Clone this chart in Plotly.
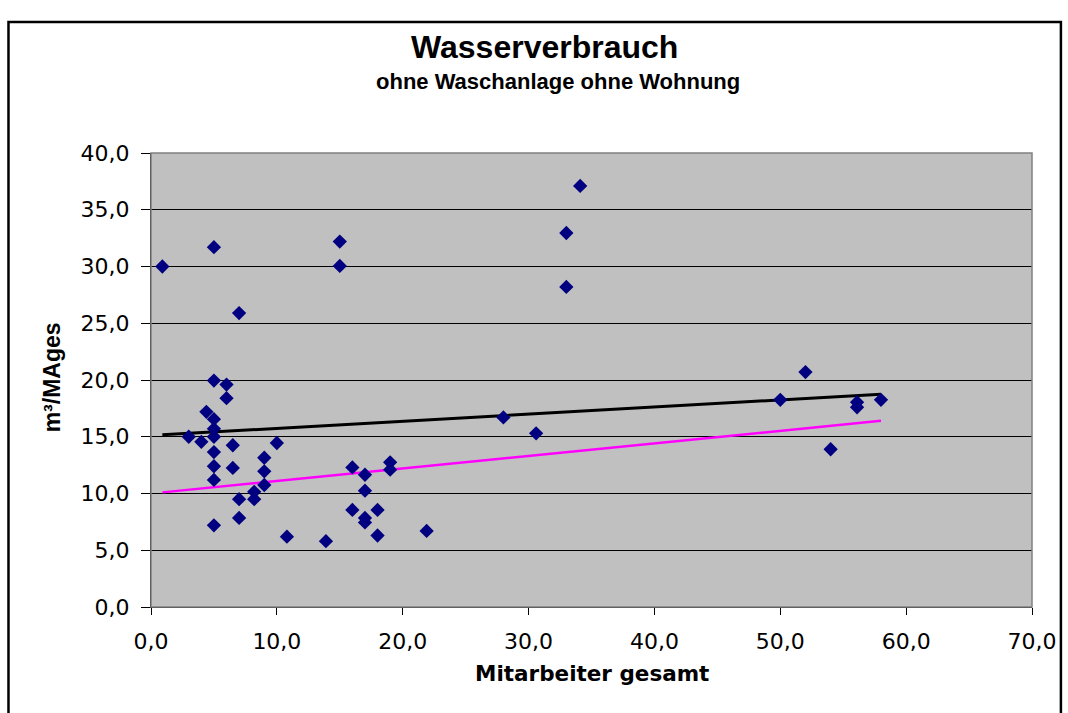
import plotly.graph_objects as go

# Data
mitarbeiter = [0.9, 5.0, 7.0, 5.0, 6.0, 6.0, 4.4, 5.0, 5.0, 3.0, 5.0, 4.0, 6.5, 10.0,
               5.0, 9.0, 5.0, 6.5, 9.0, 5.0, 9.0, 8.2, 7.0, 8.2, 7.0, 5.0, 10.8, 13.9,
               16.0, 17.0, 19.0, 19.0, 17.0, 16.0, 18.0, 17.0, 17.0, 18.0, 21.9,
               15.0, 15.0, 28.0, 30.6, 33.0, 33.0, 34.1,
               50.0, 52.0, 54.0, 56.1, 56.1, 58.0]
verbrauch = [30.0, 31.7, 25.9, 19.95, 19.6, 18.4, 17.2, 16.55, 15.7, 15.0, 15.0, 14.55, 14.25, 14.45,
             13.65, 13.15, 12.4, 12.25, 11.95, 11.2, 10.75, 10.15, 9.5, 9.5, 7.85, 7.2, 6.2, 5.8,
             12.3, 11.65, 12.75, 12.1, 10.25, 8.55, 8.55, 7.85, 7.45, 6.3, 6.7,
             32.2, 30.05, 16.7, 15.3, 32.95, 28.2, 37.1,
             18.25, 20.7, 13.9, 18.05, 17.6, 18.25]

trend_x = [0.9, 58.0]
trend_black_y = [15.17, 18.75]
trend_magenta_y = [10.1, 16.4]

x_ticks = [0, 10, 20, 30, 40, 50, 60, 70]
y_ticks = [0, 5, 10, 15, 20, 25, 30, 35, 40]

title_text = "Wasserverbrauch"
subtitle_text = "ohne Waschanlage ohne Wohnung"
x_title = "Mitarbeiter gesamt"
y_title = "m³/MAges"

fig = go.Figure()

fig.add_trace(go.Scatter(
    x=trend_x, y=trend_black_y, mode="lines",
    line=dict(color="#000000", width=3), showlegend=False, hoverinfo="skip"))
fig.add_trace(go.Scatter(
    x=trend_x, y=trend_magenta_y, mode="lines",
    line=dict(color="#ff00ff", width=2.5), showlegend=False, hoverinfo="skip"))
fig.add_trace(go.Scatter(
    x=mitarbeiter, y=verbrauch, mode="markers",
    marker=dict(symbol="diamond", size=11, color="#000080", line=dict(width=0)),
    showlegend=False))

PW, PH = 884.0, 454.0
L, T = 151, 153

def px_to_paper_x(px):
    return (px - L) / PW

def px_to_paper_y(py):
    return (T + PH - py) / PH

fig.update_layout(
    width=1068, height=713,
    margin=dict(l=L, r=1068 - L - int(PW), t=T, b=713 - T - int(PH), pad=0),
    paper_bgcolor="#ffffff",
    plot_bgcolor="#c0c0c0",
    separators=",.",
    font=dict(family="DejaVu Sans", color="#000000", size=22),
    xaxis=dict(
        range=[0, 70], tickvals=x_ticks, tickformat=".1f",
        showgrid=False, zeroline=False,
        showline=True, linecolor="#000000", linewidth=1,
        ticks="outside", ticklen=7, tickcolor="#000000", tickwidth=1,
        tickfont=dict(family="DejaVu Sans", size=22, color="#000000"),
        ticklabelstandoff=8,
    ),
    yaxis=dict(
        range=[0, 40], tickvals=y_ticks, tickformat=".1f",
        showgrid=True, gridcolor="#000000", gridwidth=1, zeroline=False,
        showline=True, linecolor="#000000", linewidth=1,
        ticks="outside", ticklen=9, tickcolor="#000000", tickwidth=1,
        tickfont=dict(family="DejaVu Sans", size=22, color="#000000"),
        ticklabelstandoff=7,
    ),
    shapes=[
        dict(type="rect", xref="paper", yref="paper", x0=0, x1=1, y0=0, y1=1,
             line=dict(color="#808080", width=1.5), fillcolor="rgba(0,0,0,0)", layer="above"),
        dict(type="rect", xref="paper", yref="paper",
             x0=px_to_paper_x(8), x1=px_to_paper_x(1064),
             y0=px_to_paper_y(730), y1=px_to_paper_y(22),
             line=dict(color="#000000", width=2.5), fillcolor="rgba(0,0,0,0)", layer="above"),
    ],
    annotations=[
        dict(text=title_text, xref="paper", yref="paper",
             x=px_to_paper_x(546), y=px_to_paper_y(47), xanchor="center", yanchor="middle",
             showarrow=False, font=dict(family="Liberation Sans", size=32, color="#000000"),
             ),
        dict(text=subtitle_text, xref="paper", yref="paper",
             x=px_to_paper_x(559), y=px_to_paper_y(81), xanchor="center", yanchor="middle",
             showarrow=False, font=dict(family="Liberation Sans", size=22, color="#000000")),
        dict(text=x_title, xref="paper", yref="paper",
             x=px_to_paper_x(594), y=px_to_paper_y(673), xanchor="center", yanchor="middle",
             showarrow=False, font=dict(family="DejaVu Sans", size=21.5, color="#000000")),
        dict(text=y_title, xref="paper", yref="paper",
             x=px_to_paper_x(52), y=px_to_paper_y(377), xanchor="center", yanchor="middle",
             textangle=-90,
             showarrow=False, font=dict(family="Liberation Sans", size=23, color="#000000")),
    ],
)

# bold text
for a in fig.layout.annotations:
    a.text = "<b>" + a.text + "</b>"

fig.write_html("out.html")
